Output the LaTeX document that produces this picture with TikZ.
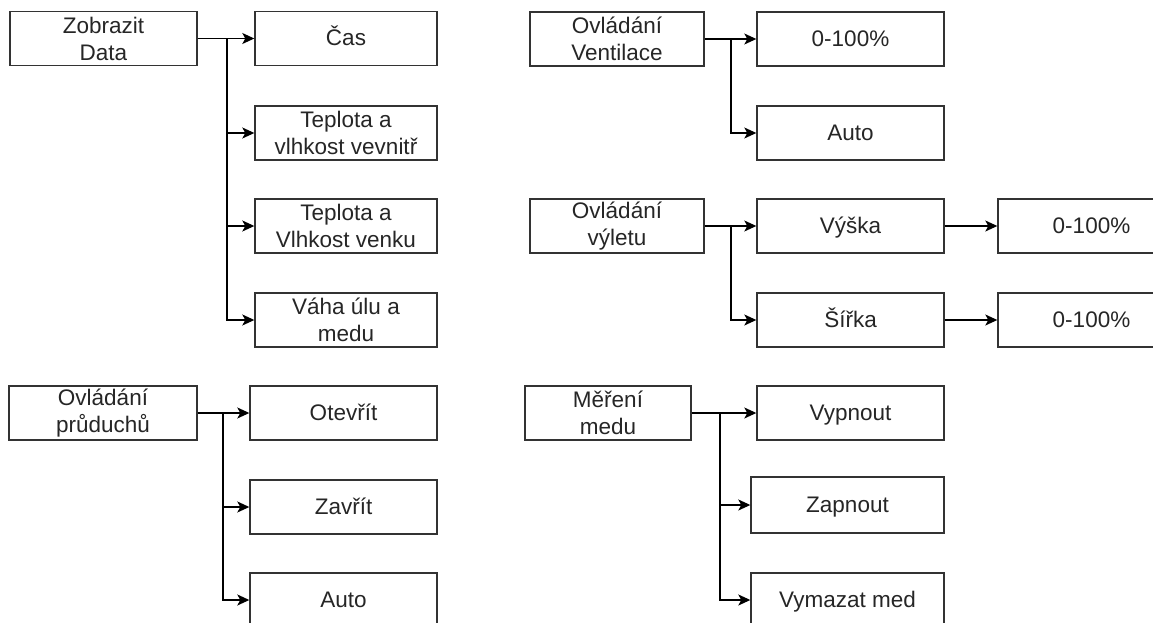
\documentclass[tikz,border=0pt]{standalone}
\usepackage{fontspec}
\setmainfont{Liberation Sans}
\usetikzlibrary{arrows.meta}
\definecolor{boxline}{HTML}{333333}
\definecolor{boxtext}{HTML}{262626}
\begin{document}
\begin{tikzpicture}[x=1pt,y=-1pt,
    box/.style={draw=boxline,line width=1.4pt,text=boxtext,align=center,inner sep=0pt,
      minimum height=54,font=\fontsize{22.5}{27}\selectfont},
    one/.style={box,text height=16pt,text depth=1pt},
    link/.style={-{Stealth[length=12pt,width=11pt,inset=3pt]},line width=1.4pt}]
  \clip (0,0) rectangle (1153,623);
  \fill[white] (0,0) rectangle (1153,623);

  % left, top
  \node [box,minimum width=187] (zd) at (103.5,38.5) {Zobrazit\\Data};
  \node [one,minimum width=182] (cas) at (346,38.5) {Čas};
  \node [box,minimum width=182] (tvin) at (346,133) {Teplota a\\vlhkost vevnitř};
  \node [box,minimum width=182] (tvout) at (346,226) {Teplota a\\Vlhkost venku};
  \node [box,minimum width=182] (vaha) at (346,320) {Váha úlu a\\medu};
  \coordinate (jzd) at (227,38.5);

  \draw[link] (zd) -- (cas);
  \draw[link] (jzd) |- (tvin);
  \draw[link] (jzd) |- (tvout);
  \draw[link] (jzd) |- (vaha);

  % left, bottom
  \node [box,minimum width=188] (op) at (103,413) {Ovládání\\průduchů};
  \node [one,minimum width=187] (otevrit) at (343.5,413) {Otevřít};
  \node [one,minimum width=187] (zavrit) at (343.5,507) {Zavřít};
  \node [one,minimum width=187] (autop) at (343.5,600) {Auto};
  \coordinate (jop) at (223,413);

  \draw[link] (op) -- (otevrit);
  \draw[link] (jop) |- (zavrit);
  \draw[link] (jop) |- (autop);

  % right, top
  \node [box,minimum width=174] (ov) at (617,39) {Ovládání\\Ventilace};
  \node [one,minimum width=187] (pctv) at (850.5,39) {0-100\%};
  \node [one,minimum width=187] (autov) at (850.5,133) {Auto};
  \coordinate (jov) at (731,39);

  \draw[link] (ov) -- (pctv);
  \draw[link] (jov) |- (autov);

  % right, middle
  \node [box,minimum width=174] (ovy) at (617,226) {Ovládání\\výletu};
  \node [one,minimum width=187] (vyska) at (850.5,226) {Výška};
  \node [one,minimum width=187] (sirka) at (850.5,320) {Šířka};
  \node [one,minimum width=187] (pctvy) at (1091.5,226) {0-100\%};
  \node [one,minimum width=187] (pctsi) at (1091.5,320) {0-100\%};
  \coordinate (jovy) at (731,226);

  \draw[link] (ovy) -- (vyska);
  \draw[link] (jovy) |- (sirka);
  \draw[link] (vyska) -- (pctvy);
  \draw[link] (sirka) -- (pctsi);

  % right, bottom
  \node [box,minimum width=166] (mm) at (608,413) {Měření\\medu};
  \node [one,minimum width=187] (vypnout) at (850.5,413) {Vypnout};
  \node [one,minimum width=193,minimum height=56] (zapnout) at (847.5,505) {Zapnout};
  \node [one,minimum width=193] (vymazat) at (847.5,600) {Vymazat med};
  \coordinate (jmm) at (720,413);

  \draw[link] (mm) -- (vypnout);
  \draw[link] (jmm) |- (zapnout);
  \draw[link] (jmm) |- (vymazat);
\end{tikzpicture}
\end{document}
